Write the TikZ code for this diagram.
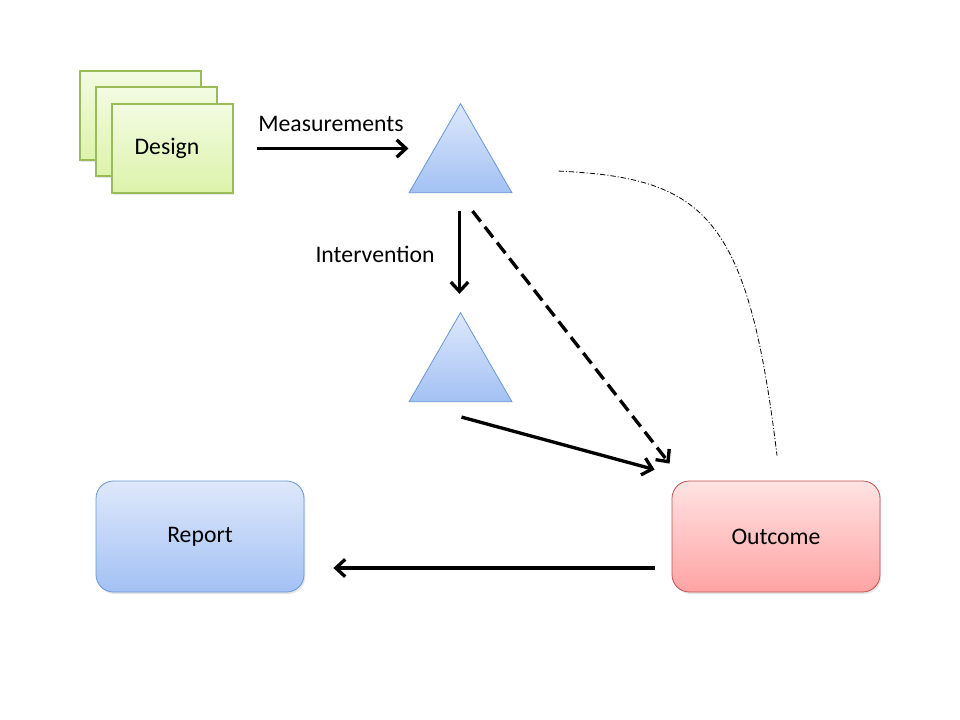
\documentclass[tikz,border=0pt]{standalone}
\usepackage{fontspec}
\setmainfont{Carlito}
\usepackage{tikz}
\usetikzlibrary{
    arrows.meta,
    calc,
    shapes.geometric,
    shadows
}

\definecolor{greenTop}{HTML}{F3FBE2}
\definecolor{greenBot}{HTML}{DCF3AA}
\definecolor{greenLine}{HTML}{9BBB59}
\definecolor{blueTop}{HTML}{DEE8FB}
\definecolor{blueBot}{HTML}{A3C1F4}
\definecolor{blueLine}{HTML}{6A96D6}
\definecolor{redTop}{HTML}{FFE3E3}
\definecolor{redBot}{HTML}{FFA3A3}
\definecolor{redLine}{HTML}{C0504D}

\tikzset{
    arr/.style={line width=2.5pt, -{Straight Barb[length=7pt,width=13pt,line width=2.5pt]}},
    sheet/.style={draw=greenLine, line width=0.8pt, top color=greenTop, bottom color=greenBot,
        minimum width=90.75pt, minimum height=66.75pt, inner sep=0pt,
        drop shadow={shadow xshift=1pt, shadow yshift=-1.5pt, opacity=0.2}},
    tri/.style={regular polygon, regular polygon sides=3, minimum size=89pt, inner sep=0pt,
        draw=blueLine, line width=0.6pt, top color=blueTop, bottom color=blueBot},
    box/.style={rounded corners=13pt, minimum width=156pt, minimum height=83.25pt,
        inner sep=0pt, line width=0.6pt,
        drop shadow={shadow xshift=1pt, shadow yshift=-1.5pt, opacity=0.2}},
    lbl/.style={inner sep=0pt}
}

\begin{document}
\begin{tikzpicture}[x=0.75pt, y=-0.75pt, font=\fontsize{17.8}{21}\selectfont]

\useasboundingbox (0,0) rectangle (960,720);

% Design (stacked sheets)
\node[sheet] (design back) at (140.5,115.5) {};
\node[sheet] (design mid) at (156.5,131.5) {};
\node[sheet] (design) at (172.5,148.5) {};
\node[lbl] (design text) at (167,148) {Design};

% Triangles
\node[tri] (tri1) at (460.5,163) {};
\node[tri] (tri2) at (460.5,372) {};

% Report and Outcome
\node[box, draw=blueLine, top color=blueTop, bottom color=blueBot] (report) at (200,536.5) {Report};
\node[box, draw=redLine, top color=redTop, bottom color=redBot] (outcome) at (776,536.5) {Outcome};

% Measurements
\draw[arr] ($(design.east)+(23,0)$) -- (design.east -| tri1.corner 2);
\node[lbl] (meas) at (331,124) {Measurements};

% Intervention
\draw[arr] ($(tri1.south)+(-1,18)$) -- ($(tri2.north)+(-1,-18)$);
\node[lbl] (interv) at (375,254) {Intervention};

% Into Outcome
\draw[arr, dash pattern=on 10pt off 5pt] ($(tri1.south)+(12,18)$) -- ($(outcome.north west)+(-2,-17)$);
\draw[arr] ($(tri2.south)+(1,15)$) -- ($(outcome.north west)+(-17,-11)$);

% Outcome to Report
\draw[arr] ($(outcome.west)+(-17,31.5)$) -- ($(report.east)+(29,31.5)$);

% Feedback curve
\draw[line width=0.6pt, dash pattern=on 4pt off 1.5pt on 0.8pt off 1.5pt]
    ($(tri1.corner 3)+(46,-22)$) .. controls (705,178) and (748,215) .. ($(outcome.north)+(1,-25)$);

\end{tikzpicture}
\end{document}
